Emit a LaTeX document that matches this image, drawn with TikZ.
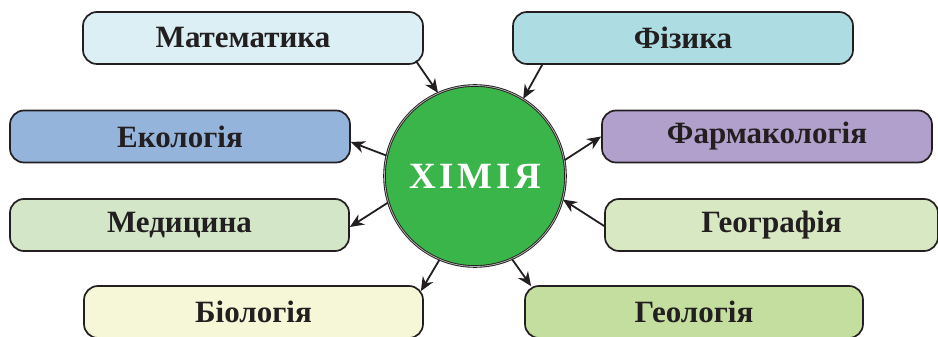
\documentclass[tikz,border=0pt]{standalone}
\usepackage{fontspec}
\setmainfont{Liberation Serif}
\usetikzlibrary{arrows.meta,calc}
\definecolor{ink}{RGB}{35,31,32}
\definecolor{cMat}{RGB}{219,239,244}
\definecolor{cFiz}{RGB}{173,221,227}
\definecolor{cEko}{RGB}{149,180,220}
\definecolor{cFarm}{RGB}{177,160,203}
\definecolor{cMed}{RGB}{211,230,200}
\definecolor{cGeog}{RGB}{215,232,195}
\definecolor{cBio}{RGB}{246,247,214}
\definecolor{cGeol}{RGB}{196,222,159}
\definecolor{cChem}{RGB}{58,181,74}
\begin{document}
\begin{tikzpicture}[x=1pt,y=1pt,
  subj/.style={draw=ink, line width=1.7pt, rounded corners=14pt, minimum height=52pt,
    inner sep=0pt, font=\fontsize{31}{34}\selectfont\bfseries, text=ink},
  link/.style={draw=ink, line width=1.8pt, -{Stealth[length=14pt,width=12pt,inset=4.5pt]}}]
\useasboundingbox (0,0) rectangle (938,337);
\node[draw=ink, line width=0.9pt, double=gray!60, double distance=0.8pt, circle,
  fill=cChem, minimum size=181pt, inner sep=0pt,
  font=\fontsize{37}{40}\selectfont\bfseries\addfontfeature{LetterSpace=10}, text=white]
  (c) at (475,161) {ХІМІЯ};
\node[subj, fill=cMat, minimum width=340pt] (mat) at (253,299) {Математика\hspace*{20pt}};
\node[subj, fill=cFiz, minimum width=340pt] (fiz) at (683,299) {Фізика};
\node[subj, fill=cEko, minimum width=340pt] (eko) at (180,200.5) {Екологія};
\node[subj, fill=cFarm, minimum width=330pt] (farm) at (767,200.5) {Фармакологія};
\node[subj, fill=cMed, minimum width=339pt] (med) at (179.5,112) {Медицина};
\node[subj, fill=cGeog, minimum width=333pt] (geog) at (771.5,112) {Географія};
\node[subj, fill=cBio, minimum width=339pt] (bio) at (253.5,25) {Біологія};
\node[subj, fill=cGeol, minimum width=338pt] (geol) at (694,25) {Геологія};
\draw[link] ($(mat.south east)+(-8,4)$) -- (c.114);
\draw[link] ($(fiz.south west)+(30,0)$) -- (c.58);
\draw[link] (c.167) -- ($(eko.east)+(0,-5.5)$);
\draw[link] (c.10) -- (farm.west);
\draw[link] (c.197) -- ($(med.east)+(0,-2)$);
\draw[link] ($(geog.west)+(0,-1)$) -- (c.345);
\draw[link] (c.247) -- ($(bio.north east)+(-3,-6)$);
\draw[link] (c.294) -- ($(geol.north west)+(7,-1)$);
\end{tikzpicture}
\end{document}
